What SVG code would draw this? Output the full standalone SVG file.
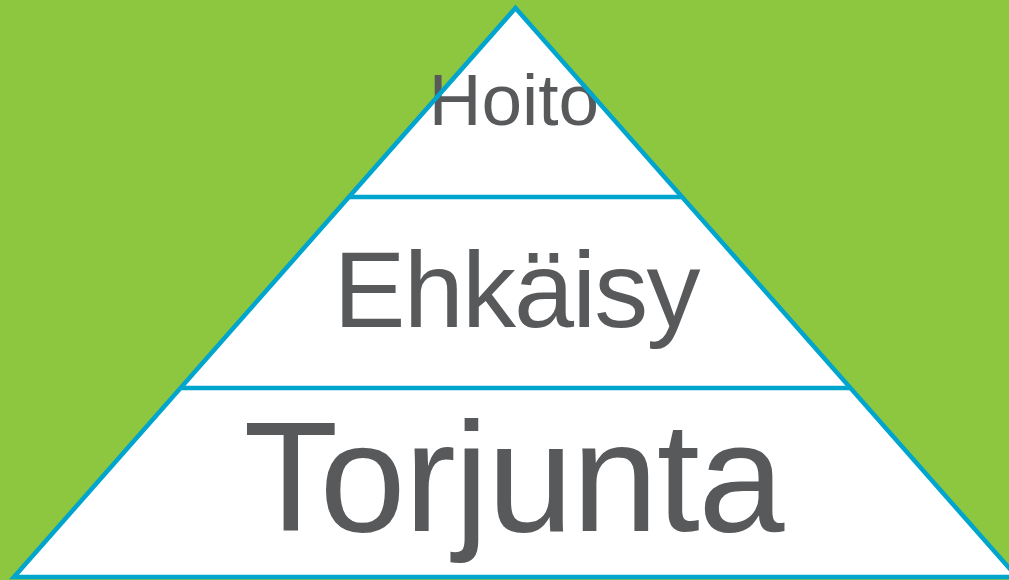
<svg xmlns="http://www.w3.org/2000/svg" width="1009" height="580" viewBox="0 0 1009 580">
  <style>
    .tier { fill: #ffffff; stroke: none; }
    .edge { fill: none; stroke: #00A5CD; stroke-width: 4.5; stroke-linejoin: miter; }
    .lbl { font-family: "Liberation Sans", Arial, sans-serif; fill: #58595B; text-anchor: middle; }
  </style>
  <rect x="0" y="0" width="1009" height="580" fill="#8DC63F"/>
  <g id="tier-hoito">
    <polygon class="tier" points="515.5,8 682,197 349,197"/>
    <text class="lbl" x="514" y="125" font-size="73">Hoito</text>
  </g>
  <g id="tier-ehkaisy">
    <polygon class="tier" points="349,197 682,197 850.3,388 180.7,388"/>
    <text class="lbl" x="517" y="327" font-size="108" textLength="367" lengthAdjust="spacing">Ehkäisy</text>
  </g>
  <g id="tier-torjunta">
    <polygon class="tier" points="180.7,388 850.3,388 1017,577 14,577"/>
    <text class="lbl" x="514" y="531" font-size="155" textLength="541" lengthAdjust="spacing">Torjunta</text>
  </g>
  <g id="connectors">
    <polygon class="edge" points="515.5,8 1017,577 14,577"/>
    <line class="edge" x1="349" y1="197" x2="682" y2="197"/>
    <line class="edge" x1="180.7" y1="388" x2="850.3" y2="388"/>
  </g>
</svg>
